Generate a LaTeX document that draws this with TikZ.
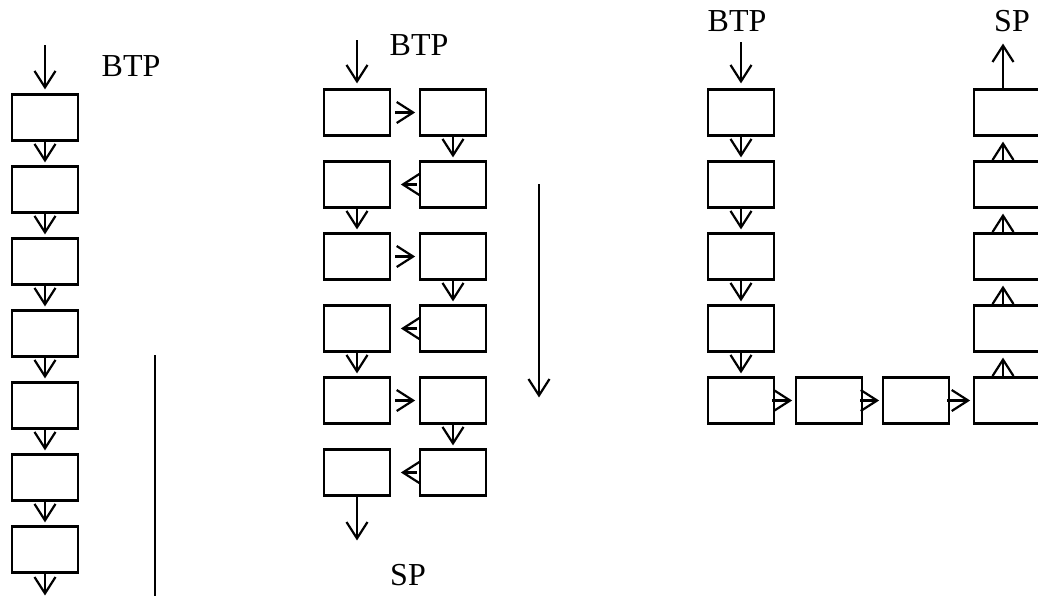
\documentclass[tikz,border=0pt]{standalone}
\usepackage{fontspec}
\setmainfont{Liberation Serif}
\usetikzlibrary{arrows.meta}
\pgfdeclarearrow{
  name = Vbarb,
  setup code = {
    \pgfarrowssettipend{0pt}
    \pgfarrowssetlineend{-1.5pt}
    \pgfarrowssetbackend{-18pt}
    \pgfarrowsupperhullpoint{-18pt}{10.5pt}
    \pgfarrowshullpoint{0pt}{0pt}
  },
  drawing code = {
    \pgfsetmiterjoin
    \pgfpathmoveto{\pgfqpoint{-18pt}{10.5pt}}
    \pgfpathlineto{\pgfqpoint{-1.6pt}{0pt}}
    \pgfpathlineto{\pgfqpoint{-18pt}{-10.5pt}}
    \pgfusepathqstroke
  }
}
\tikzset{
  box/.style={draw, line width=2.6pt, minimum width=66pt, minimum height=46.5pt, inner sep=0pt},
  arr/.style={-{Vbarb}, line width=2.2pt},
  lbl/.style={inner sep=0pt, font=\fontsize{32}{36}\selectfont},
  plain/.style={line width=2.2pt}
}
\begin{document}
\begin{tikzpicture}[x=1pt,y=-1pt]
\useasboundingbox (0,0) rectangle (1038,595);
% ---------- left ----------
\foreach \i/\y in {1/117.5,2/189.5,3/261.5,4/333.5,5/405.5,6/477.5,7/549.5}
  \node[box] (L\i) at (45,\y) {};
\node[lbl] (btpL) at (131,66) {BTP};
\coordinate (ltop) at (45,45);
\coordinate (lend) at (45,595);
\draw[arr, shorten >=4pt] (ltop) -- (L1.north);
\foreach \i/\j in {1/2,2/3,3/4,4/5,5/6,6/7}
  \draw[arr, shorten >=3pt] (L\i.south) -- (L\j.north);
\draw[arr] (L7.south) -- (lend);
\coordinate (v1) at (155,355);
\coordinate (v2) at (155,600);
\draw[plain] (v1) -- (v2);
% ---------- middle ----------
\foreach \i/\y in {1/112.5,2/184.5,3/256.5,4/328.5,5/400.5,6/472.5}{
  \node[box] (ML\i) at (357,\y) {};
  \node[box] (MR\i) at (453,\y) {};
}
\node[lbl] (btpM) at (419,45) {BTP};
\node[lbl] (spM) at (408,575) {SP};
\coordinate (mtop) at (357,40);
\coordinate (mend) at (357,540);
\draw[arr, shorten >=5pt] (mtop) -- (ML1.north);
\foreach \i in {1,3,5}
  \draw[arr, shorten <=4pt, shorten >=4pt] (ML\i.east) -- (MR\i.west);
\foreach \i in {2,4,6}
  \draw[arr, shorten <=2pt, shorten >=10pt] (MR\i.west) -- (ML\i.east);
\foreach \i/\j in {1/2,3/4,5/6}
  \draw[arr, shorten >=3pt] (MR\i.south) -- (MR\j.north);
\foreach \i/\j in {2/3,4/5}
  \draw[arr, shorten >=3pt] (ML\i.south) -- (ML\j.north);
\draw[arr] (ML6.south) -- (mend);
\coordinate (d1) at (539,184);
\coordinate (d2) at (539,397);
\draw[arr] (d1) -- (d2);
% ---------- right ----------
\foreach \i/\y in {1/112.5,2/184.5,3/256.5,4/328.5,5/400.5}
  \node[box] (R\i) at (741,\y) {};
\node[box] (B2) at (829,400.5) {};
\node[box] (B3) at (916,400.5) {};
\foreach \i/\y in {1/112.5,2/184.5,3/256.5,4/328.5,5/400.5}
  \node[box] (C\i) at (1007,\y) {};
\node[lbl] (btpR) at (737,21) {BTP};
\node[lbl] (spR) at (1012,21) {SP};
\coordinate (rtop) at (741,42);
\coordinate (rend) at (1003,44);
\draw[arr, shorten >=5pt] (rtop) -- (R1.north);
\foreach \i/\j in {1/2,2/3,3/4,4/5}
  \draw[arr, shorten >=3pt] (R\i.south) -- (R\j.north);
\draw[arr, shorten <=-3pt, shorten >=3pt] (R5.east) -- (B2.west);
\draw[arr, shorten <=-3pt, shorten >=3pt] (B2.east) -- (B3.west);
\draw[arr, shorten <=-3pt, shorten >=3pt] (B3.east) -- (C5.west);
\foreach \i/\j in {5/4,4/3,3/2,2/1}
  \draw[arr, shorten >=5pt] ([xshift=-4pt]C\i.north) -- ([xshift=-4pt]C\j.south);
\draw[arr] ([xshift=-4pt]C1.north) -- (rend);
\end{tikzpicture}
\end{document}
